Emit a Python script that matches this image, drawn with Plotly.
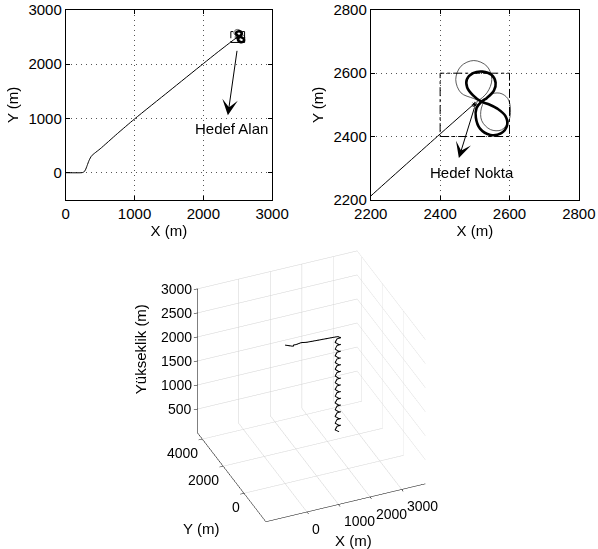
import plotly.graph_objects as go

# ---------------- data ----------------
# approach path (x, y) in metres, and altitude along it
path_x = [0, 230, 260, 285, 310, 340, 375, 420, 500, 750, 1000, 1500, 2000, 2200, 2400, 2500]
path_y = [0, 0, 10, 50, 130, 230, 310, 360, 440, 720, 990, 1500, 2010, 2212, 2408, 2505]
path_z = [2880, 2822, 2814, 2803, 2783, 2757, 2735, 2718, 2690, 2612, 2502, 2320, 2139, 2067, 1996, 1960]

# loiter: bold figure-eight
eight_x = [2519, 2495, 2478, 2477, 2495, 2522, 2548, 2560, 2555, 2535, 2519,
           2505, 2503, 2515, 2545, 2575, 2593, 2588, 2565, 2540, 2519]
eight_y = [2510, 2530, 2555, 2580, 2600, 2605, 2595, 2570, 2545, 2522, 2510,
           2490, 2460, 2425, 2405, 2410, 2435, 2465, 2488, 2502, 2510]
# loiter: thin entry loops
loopA_x = [2500, 2535, 2549, 2535, 2497, 2460, 2445, 2460, 2497, 2519]
loopA_y = [2505, 2538, 2580, 2622, 2640, 2622, 2580, 2538, 2520, 2510]
loopB_x = [2519, 2540, 2572, 2595, 2603, 2598, 2577, 2545, 2520, 2519]
loopB_y = [2490, 2530, 2537, 2520, 2484, 2450, 2421, 2422, 2450, 2490]

target_x = [2500]
target_y = [2500]
box_x = [2400, 2600, 2600, 2400, 2400]
box_y = [2400, 2400, 2600, 2600, 2400]

# descending loiter (3D)
helix_x = [2590, 2500, 2410, 2500, 2590, 2500, 2410, 2500, 2590, 2500, 2410, 2500, 2590, 2500,
           2410, 2500, 2590, 2500, 2410, 2500, 2590, 2500, 2410, 2500, 2590, 2500, 2410, 2500,
           2590, 2500, 2410, 2500, 2590, 2500, 2410, 2500, 2590, 2500, 2410, 2500, 2590, 2500,
           2410, 2500, 2590, 2500, 2410, 2500, 2590, 2500, 2410, 2500, 2590, 2500, 2410, 2500]
helix_y = [2500, 2590, 2500, 2410, 2500, 2590, 2500, 2410, 2500, 2590, 2500, 2410, 2500, 2590,
           2500, 2410, 2500, 2590, 2500, 2410, 2500, 2590, 2500, 2410, 2500, 2590, 2500, 2410,
           2500, 2590, 2500, 2410, 2500, 2590, 2500, 2410, 2500, 2590, 2500, 2410, 2500, 2590,
           2500, 2410, 2500, 2590, 2500, 2410, 2500, 2590, 2500, 2410, 2500, 2590, 2500, 2410]
helix_z = [1925, 1890, 1855, 1820, 1785, 1750, 1715, 1680, 1645, 1610, 1575, 1540, 1505, 1470,
           1435, 1400, 1365, 1330, 1295, 1260, 1225, 1190, 1155, 1120, 1085, 1050, 1015, 980,
           945, 910, 875, 840, 805, 770, 735, 700, 665, 630, 595, 560, 525, 490,
           455, 420, 385, 350, 315, 280, 245, 210, 175, 140, 105, 70, 35, 10]

ticks_main = [0, 1000, 2000, 3000]
ticks_zoom = [2200, 2400, 2600, 2800]
ticks_3d_x = [0, 1000, 2000, 3000]
ticks_3d_y = [0, 2000, 4000]
ticks_3d_z = [500, 1000, 1500, 2000, 2500, 3000]
range_3d_x = [-1300, 3750]
range_3d_y = [-2100, 4450]
range_3d_z = [0, 3000]

FONT = "Liberation Sans, Arial, sans-serif"
fig = go.Figure()

for xa, ya in (("x", "y"), ("x2", "y2")):
    fig.add_trace(go.Scatter(x=path_x, y=path_y, mode="lines", xaxis=xa, yaxis=ya,
                             line=dict(color="black", width=1, shape="spline", smoothing=0.6)))
    fig.add_trace(go.Scatter(x=loopA_x, y=loopA_y, mode="lines", xaxis=xa, yaxis=ya,
                             line=dict(color="#333", width=0.8, shape="spline")))
    fig.add_trace(go.Scatter(x=loopB_x, y=loopB_y, mode="lines", xaxis=xa, yaxis=ya,
                             line=dict(color="#333", width=0.8, shape="spline")))
    fig.add_trace(go.Scatter(x=eight_x, y=eight_y, mode="lines", xaxis=xa, yaxis=ya,
                             line=dict(color="black", width=2.6, shape="spline")))
    fig.add_trace(go.Scatter(x=box_x, y=box_y, mode="lines", xaxis=xa, yaxis=ya,
                             line=dict(color="black", width=1, dash="9px,3px,3px,3px")))
    fig.add_trace(go.Scatter(x=target_x, y=target_y, mode="markers", xaxis=xa, yaxis=ya,
                             marker=dict(symbol="asterisk-open", size=5, color="black",
                                         line=dict(color="black", width=1))))

# 3D
fig.add_trace(go.Scatter3d(x=path_x + helix_x, y=path_y + helix_y, z=path_z + helix_z,
                           mode="lines", line=dict(color="black", width=2)))

ax_common = dict(showline=True, linecolor="black", linewidth=1, mirror="ticks",
                 ticks="inside", ticklen=4, tickcolor="black", automargin=False,
                 showgrid=True, gridcolor="#555", griddash="1px,4px", gridwidth=1,
                 zeroline=False, tickfont=dict(size=15, color="black", family=FONT),
                 title_font=dict(size=15, color="black", family=FONT))

fig.update_layout(
    width=598, height=549, margin=dict(l=0, r=0, t=0, b=0),
    paper_bgcolor="white", plot_bgcolor="white", showlegend=False,
    font=dict(family=FONT, color="black"),
    xaxis=dict(domain=[0.110, 0.455], range=[0, 3000], tickvals=ticks_main,
               title=dict(text="X (m)", standoff=2), anchor="y", **ax_common),
    yaxis=dict(domain=[0.636, 0.982], range=[-500, 3000], tickvals=ticks_main,
               title=dict(text="Y (m)", standoff=6), anchor="x", **ax_common),
    xaxis2=dict(domain=[0.620, 0.968], range=[2200, 2800], tickvals=ticks_zoom,
                title=dict(text="X (m)", standoff=2), anchor="y2", **ax_common),
    yaxis2=dict(domain=[0.636, 0.982], range=[2200, 2800], tickvals=ticks_zoom,
                title=dict(text="Y (m)", standoff=6), anchor="x2", **ax_common),
)

ax3 = dict(showline=True, linecolor="black", linewidth=1, showbackground=False,
           showgrid=True, gridcolor="#d2d2d2", gridwidth=1, zeroline=False,
           showspikes=False, ticks="outside", ticklen=4, tickcolor="black",
           showticklabels=False, title=dict(text=""))

tfont = dict(size=14, color="black", family=FONT)
scene_ann = []
for v in ticks_3d_x:
    scene_ann.append(dict(x=v, y=range_3d_y[0], z=range_3d_z[0], text=str(v), showarrow=False,
                          xanchor="left", yanchor="middle", xshift=4, yshift=-17, font=tfont))
for v in ticks_3d_y:
    scene_ann.append(dict(x=range_3d_x[0], y=v, z=range_3d_z[0], text=str(v), showarrow=False,
                          xanchor="right", yanchor="middle", xshift=-2, yshift=-14, font=tfont))
for v in ticks_3d_z:
    scene_ann.append(dict(x=range_3d_x[0], y=range_3d_y[1], z=v, text=str(v), showarrow=False,
                          xanchor="right", yanchor="middle", xshift=-3, yshift=0, font=tfont))
scene_ann.append(dict(x=1500, y=range_3d_y[0], z=range_3d_z[0], text="X (m)", showarrow=False,
                      xanchor="center", yanchor="middle", xshift=0, yshift=-40,
                      font=dict(size=15, color="black", family=FONT)))
scene_ann.append(dict(x=range_3d_x[0], y=-1000, z=range_3d_z[0], text="Y (m)", showarrow=False,
                      xanchor="center", yanchor="middle", xshift=-53, yshift=-22,
                      font=dict(size=15, color="black", family=FONT)))
scene_ann.append(dict(x=range_3d_x[0], y=range_3d_y[1], z=1500, text="Yükseklik (m)",
                      showarrow=False, textangle=-90, xanchor="center", yanchor="middle",
                      xshift=-56, yshift=12, font=dict(size=15, color="black", family=FONT)))

fig.update_layout(scene=dict(
    domain=dict(x=[0.170, 0.870], y=[0.0, 0.632]),
    xaxis=dict(range=range_3d_x, tickvals=ticks_3d_x, **ax3),
    yaxis=dict(range=range_3d_y, tickvals=ticks_3d_y, **ax3),
    zaxis=dict(range=range_3d_z, tickvals=ticks_3d_z, **ax3),
    aspectmode="cube",
    camera=dict(projection=dict(type="orthographic"),
                eye=dict(x=-0.509, y=-1.19, z=0.941),
                up=dict(x=0, y=0, z=1),
                center=dict(x=0, y=0, z=0.075)),
    bgcolor="rgba(0,0,0,0)",
    annotations=scene_ann,
))

# arrows and labels
fig.add_annotation(x=2357, y=1060, ax=2493, ay=2273, xref="x", yref="y", axref="x", ayref="y",
                   showarrow=True, arrowhead=3, arrowsize=2.6, arrowwidth=1, arrowcolor="black", text="")
fig.add_annotation(x=2406, y=813, xref="x", yref="y", text="Hedef Alan", showarrow=False,
                   font=dict(size=15, color="black", family=FONT))
fig.add_annotation(x=2454, y=2332, ax=2500, ay=2495, xref="x2", yref="y2", axref="x2", ayref="y2",
                   showarrow=True, arrowhead=3, arrowsize=2.6, arrowwidth=1, arrowcolor="black", text="")
fig.add_annotation(x=2493, y=2286, xref="x2", yref="y2", text="Hedef Nokta", showarrow=False,
                   font=dict(size=15, color="black", family=FONT))

fig.write_html("out.html")
